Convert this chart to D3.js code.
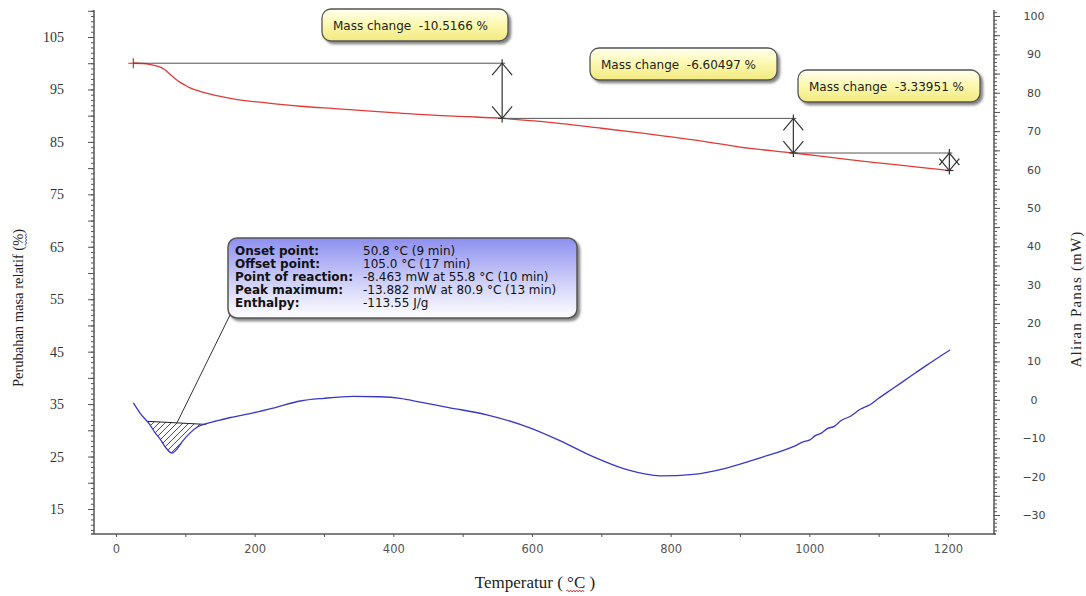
<!DOCTYPE html>
<html>
<head>
<meta charset="utf-8">
<script src="https://cdn.jsdelivr.net/npm/d3@7"></script>
<style>
body { margin: 0; background: #fff; }
svg { display: block; }
</style>
</head>
<body>
<svg width="1086" height="596"></svg>
<script>
// TGA curve: temperature (C) and relative mass (%)
var tgaTemp = [25, 39, 50, 63, 70, 78, 85, 92, 100, 107, 120, 136, 169, 220, 266, 320, 362, 410, 457, 510, 557, 612, 700, 756, 843, 900, 977, 1040, 1092, 1150, 1202];
var tgaMass = [100, 99.95, 99.75, 99.3, 98.8, 97.9, 97.1, 96.4, 95.8, 95.3, 94.7, 94.1, 93.2, 92.4, 91.8, 91.3, 90.9, 90.5, 90.1, 89.8, 89.48, 88.9, 87.6, 86.7, 85.2, 84.0, 82.88, 81.9, 81.1, 80.3, 79.54];

// DSC curve: temperature (C) and heat flow (mW)
var dscTemp = [25, 35, 49, 56, 64, 72, 81, 88, 95, 107, 118, 128, 145, 165, 198, 230, 266, 300, 342, 380, 410, 439, 480, 535, 597, 641, 688, 737, 785, 833, 882, 929, 977, 992, 1000, 1008, 1018, 1026, 1036, 1046, 1060, 1074, 1088, 1100, 1121, 1145, 1170, 1203];
var dscHeat = [-0.8, -3.5, -6.5, -8.46, -10.3, -12.5, -13.88, -12.8, -11.0, -8.6, -7.0, -6.3, -5.5, -4.6, -3.4, -2.0, -0.3, 0.4, 0.9, 0.8, 0.4, -0.6, -2.0, -3.9, -7.3, -10.7, -14.8, -18.2, -19.8, -19.4, -17.7, -15.1, -12.2, -10.9, -10.5, -9.4, -8.6, -7.5, -6.9, -5.4, -4.2, -2.4, -1.2, 0.4, 3.0, 6.0, 9.1, 13.0];

// mass change steps
var stepTemp = [25, 557, 977, 1202];
var stepMass = [100, 89.4834, 82.8784, 79.5389];
var stepLabels = ["Mass change  -10.5166 %", "Mass change  -6.60497 %", "Mass change  -3.33951 %"];

// peak evaluation
var peakBaseTemp = [46, 130];
var peakBaseHeat = [-5.6, -6.4];
var peakNames = ["Onset point:", "Offset point:", "Point of reaction:", "Peak maximum:", "Enthalpy:"];
var peakValues = ["50.8 \u00b0C (9 min)", "105.0 \u00b0C (17 min)", "-8.463 mW at 55.8 \u00b0C (10 min)", "-13.882 mW at 80.9 \u00b0C (13 min)", "-113.55 J/g"];

// ticks
var xTicks = [0, 200, 400, 600, 800, 1000, 1200];
var leftTicks = [15, 25, 35, 45, 55, 65, 75, 85, 95, 105];
var rightTicks = [-30, -20, -10, 0, 10, 20, 30, 40, 50, 60, 70, 80, 90, 100];

var svg = d3.select("svg");
var defs = svg.append("defs");

var yellow = defs.append("linearGradient").attr("id", "yel").attr("x1", 0).attr("y1", 0).attr("x2", 0).attr("y2", 1);
yellow.append("stop").attr("offset", 0).attr("stop-color", "#fffff2");
yellow.append("stop").attr("offset", 0.45).attr("stop-color", "#fdf9b2");
yellow.append("stop").attr("offset", 1).attr("stop-color", "#f2ea80");

var lav = defs.append("linearGradient").attr("id", "lav").attr("x1", 0).attr("y1", 0).attr("x2", 0).attr("y2", 1);
lav.append("stop").attr("offset", 0).attr("stop-color", "#8d8ff0");
lav.append("stop").attr("offset", 0.5).attr("stop-color", "#c9caf8");
lav.append("stop").attr("offset", 1).attr("stop-color", "#ffffff");

defs.append("filter").attr("id", "shadow").attr("x", "-10%").attr("y", "-20%").attr("width", "130%").attr("height", "160%")
    .append("feDropShadow").attr("dx", 2.5).attr("dy", 2.5).attr("stdDeviation", 1.2)
    .attr("flood-color", "#333").attr("flood-opacity", 0.6);

var hatch = defs.append("pattern").attr("id", "hatch").attr("patternUnits", "userSpaceOnUse")
    .attr("width", 6).attr("height", 6);
hatch.append("path").attr("d", "M0,6L6,0M-1,1L1,-1M5,7L7,5").attr("stroke", "#222").attr("stroke-width", 0.8);

var xS = d3.scaleLinear().domain([-31.7, 1266.4]).range([94, 994]);
var yL = d3.scaleLinear().domain([10.23, 110.15]).range([534, 10]);
var yR = d3.scaleLinear().domain([-34.95, 101.56]).range([534, 10]);

// ---- axes ----
function styleAxis(g) {
    g.select(".domain").remove();
    g.selectAll("line").attr("stroke", "#555");
}

svg.append("g").attr("transform", "translate(94,0)")
    .call(d3.axisLeft(yL).tickValues(d3.range(11, 111)).tickSize(3).tickFormat(""))
    .call(styleAxis);
svg.append("g").attr("transform", "translate(94,0)")
    .call(d3.axisLeft(yL).tickValues(d3.range(15, 111, 5)).tickSize(6).tickFormat(""))
    .call(styleAxis);
svg.append("g").attr("transform", "translate(94,0)")
    .call(d3.axisLeft(yL).tickValues(leftTicks).tickSize(0).tickPadding(30))
    .call(styleAxis)
    .selectAll("text").attr("font-family", "Liberation Serif").attr("font-size", 14).attr("fill", "#333");

svg.append("g").attr("transform", "translate(994,0)")
    .call(d3.axisRight(yR).tickValues(d3.range(-34, 102)).tickSize(3).tickFormat(""))
    .call(styleAxis);
svg.append("g").attr("transform", "translate(994,0)")
    .call(d3.axisRight(yR).tickValues(d3.range(-30, 101, 5)).tickSize(6).tickFormat(""))
    .call(styleAxis);
svg.append("g").attr("transform", "translate(994,0)")
    .call(d3.axisRight(yR).tickValues(rightTicks).tickSize(0))
    .call(styleAxis)
    .selectAll("text").attr("x", 40).attr("text-anchor", "middle")
    .attr("font-family", "DejaVu Sans").attr("font-size", 11).attr("fill", "#444");

svg.append("g").attr("transform", "translate(0,534)")
    .call(d3.axisBottom(xS).tickValues(d3.range(0, 1201, 100)).tickSize(3).tickFormat(""))
    .call(styleAxis);
svg.append("g").attr("transform", "translate(0,534)")
    .call(d3.axisBottom(xS).tickValues(xTicks).tickSize(0).tickPadding(11).tickFormat(d3.format("d")))
    .call(styleAxis)
    .selectAll("text").attr("font-family", "DejaVu Sans").attr("font-size", 11.5).attr("fill", "#555");

// frame lines
svg.append("line").attr("x1", 94).attr("x2", 94).attr("y1", 10).attr("y2", 534).attr("stroke", "#555").attr("stroke-width", 1.5);
svg.append("line").attr("x1", 994).attr("x2", 994).attr("y1", 10).attr("y2", 535).attr("stroke", "#555").attr("stroke-width", 1.5);
svg.append("line").attr("x1", 91).attr("x2", 996).attr("y1", 534).attr("y2", 534).attr("stroke", "#555").attr("stroke-width", 1.5);

// ---- titles ----
function wavy(x0, x1, y) {
    var p = "M" + x0 + "," + y, up = true;
    for (var x = x0 + 1.5; x <= x1; x += 1.5) { p += "L" + x + "," + (y + (up ? -1 : 1)); up = !up; }
    return p;
}

var lt = svg.append("g").attr("transform", "translate(23,308) rotate(-90)");
var ltText = lt.append("text").attr("text-anchor", "middle").attr("font-family", "Liberation Serif")
    .attr("font-size", 14.5).attr("fill", "#222").text("Perubahan masa relatif (%)");
var pc = ltText.node().getExtentOfChar(24);
lt.append("path").attr("d", wavy(pc.x, pc.x + pc.width, 3)).attr("fill", "none").attr("stroke", "#3050d0").attr("stroke-width", 0.9);

svg.append("g").attr("transform", "translate(1081,299) rotate(-90)")
    .append("text").attr("text-anchor", "middle").attr("font-family", "Liberation Serif")
    .attr("font-size", 15).attr("letter-spacing", 1.2).attr("fill", "#222").text("Aliran Panas (mW)");

var xt = svg.append("text").attr("x", 535).attr("y", 588).attr("text-anchor", "middle")
    .attr("font-family", "Liberation Serif").attr("font-size", 17).attr("fill", "#222")
    .style("white-space", "pre").text("Temperatur ( \u00b0C )");
var c1 = xt.node().getExtentOfChar(13), c2 = xt.node().getExtentOfChar(14);
svg.append("path").attr("d", wavy(c1.x - 1, c2.x + c2.width, 591)).attr("fill", "none").attr("stroke", "#d03030").attr("stroke-width", 0.9);

// ---- curves ----
var tga = tgaTemp.map(function(t, i) { return [t, tgaMass[i]]; });
var dsc = dscTemp.map(function(t, i) { return [t, dscHeat[i]]; });

var lineL = d3.line().x(function(d) { return xS(d[0]); }).y(function(d) { return yL(d[1]); }).curve(d3.curveMonotoneX);
var lineR = d3.line().x(function(d) { return xS(d[0]); }).y(function(d) { return yR(d[1]); }).curve(d3.curveMonotoneX);

// hatched peak area
var inner = dsc.filter(function(d) { return d[0] > peakBaseTemp[0] && d[0] < peakBaseTemp[1]; });
var areaPts = [[peakBaseTemp[0], peakBaseHeat[0]]].concat(inner).concat([[peakBaseTemp[1], peakBaseHeat[1]]]);
svg.append("path").attr("d", lineR(areaPts) + "Z").attr("fill", "url(#hatch)").attr("stroke", "none");
svg.append("line").attr("x1", xS(peakBaseTemp[0])).attr("x2", xS(peakBaseTemp[1]))
    .attr("y1", yR(peakBaseHeat[0])).attr("y2", yR(peakBaseHeat[1])).attr("stroke", "#222").attr("stroke-width", 1);

svg.append("path").attr("d", lineL(tga)).attr("fill", "none").attr("stroke", "#e23a36").attr("stroke-width", 1.3);
svg.append("path").attr("d", lineR(dsc)).attr("fill", "none").attr("stroke", "#3838c8").attr("stroke-width", 1.3);

// start marker
var sx = xS(tgaTemp[0]), sy = yL(tgaMass[0]);
svg.append("path").attr("d", "M" + (sx - 5) + "," + sy + "H" + (sx + 5) + "M" + sx + "," + (sy - 5) + "V" + (sy + 5))
    .attr("stroke", "#c03030").attr("stroke-width", 1.2);

// ---- mass change annotations ----
var boxLayout = [[322, 9, 186], [590, 48, 187], [798, 70, 182]];
for (var i = 0; i < 3; i++) {
    var x0 = xS(stepTemp[i]), x1 = xS(stepTemp[i + 1]);
    var ya = yL(stepMass[i]), yb = yL(stepMass[i + 1]);
    var g = svg.append("g").attr("stroke", "#333").attr("fill", "none").attr("stroke-width", 1.2);
    g.append("line").attr("x1", x0).attr("x2", x1 + 3).attr("y1", ya).attr("y2", ya).attr("stroke", "#555").attr("stroke-width", 1);
    g.append("line").attr("x1", x1).attr("x2", x1).attr("y1", ya - 4).attr("y2", yb + 4);
    g.append("path").attr("d", "M" + (x1 - 10) + "," + (ya + 12) + "L" + x1 + "," + ya + "L" + (x1 + 10) + "," + (ya + 12));
    g.append("path").attr("d", "M" + (x1 - 10) + "," + (yb - 12) + "L" + x1 + "," + yb + "L" + (x1 + 10) + "," + (yb - 12));
    g.append("line").attr("x1", x1 - 4).attr("x2", x1 + 4).attr("y1", yb).attr("y2", yb);

    var b = boxLayout[i];
    svg.append("rect").attr("x", b[0]).attr("y", b[1]).attr("width", b[2]).attr("height", 32)
        .attr("rx", 9).attr("fill", "url(#yel)").attr("stroke", "#555").attr("stroke-width", 1.3)
        .attr("filter", "url(#shadow)");
    svg.append("text").attr("x", b[0] + 11).attr("y", b[1] + 20.5)
        .attr("font-family", "DejaVu Sans").attr("font-size", 12).attr("fill", "#222")
        .style("white-space", "pre").text(stepLabels[i]);
}

// ---- peak info box ----
svg.append("line").attr("x1", 231).attr("y1", 313).attr("x2", xS(88)).attr("y2", yR(-6.0))
    .attr("stroke", "#333").attr("stroke-width", 1);
svg.append("rect").attr("x", 228).attr("y", 238).attr("width", 349).attr("height", 80)
    .attr("rx", 9).attr("fill", "url(#lav)").attr("stroke", "#555").attr("stroke-width", 1.5)
    .attr("filter", "url(#shadow)");
var info = svg.append("g").attr("font-family", "DejaVu Sans").attr("font-size", 12).attr("fill", "#111");
info.selectAll("text.n").data(peakNames).enter().append("text").attr("class", "n")
    .attr("x", 235).attr("y", function(d, i) { return 255 + i * 13; })
    .attr("font-weight", "bold").text(function(d) { return d; });
info.selectAll("text.v").data(peakValues).enter().append("text").attr("class", "v")
    .attr("x", 363).attr("y", function(d, i) { return 255 + i * 13; })
    .text(function(d) { return d; });
</script>
</body>
</html>
